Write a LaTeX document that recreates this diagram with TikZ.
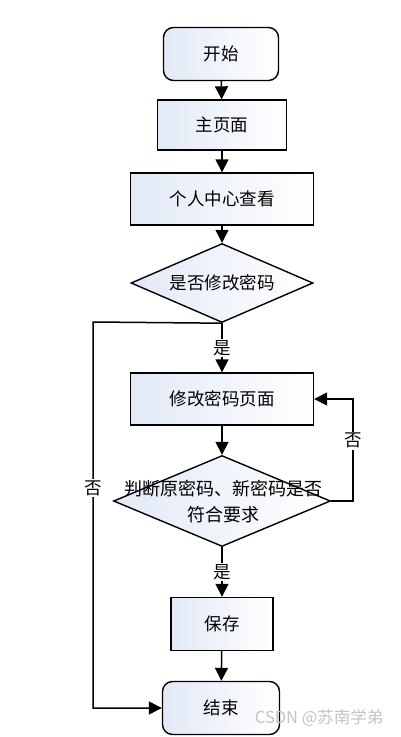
\documentclass[tikz,border=0pt]{standalone}
\usepackage{fontspec}
\setmainfont{Noto Sans CJK SC}
\usetikzlibrary{arrows.meta,shapes.geometric,positioning}
\definecolor{boxblue}{RGB}{226,233,246}
\definecolor{markgray}{RGB}{195,195,195}

\begin{document}
\begin{tikzpicture}[x=1pt,y=-1pt]
		\tikzstyle{every node}=[font=\fontsize{17.5}{21}\selectfont]
		\tikzstyle{box}=[draw, line width=1.4pt, left color=boxblue, right color=white, inner sep=0pt]
		\tikzstyle{terminal}=[box, rounded corners=10pt, minimum width=115pt, minimum height=53pt]
		\tikzstyle{process}=[box, minimum height=52pt]
		\tikzstyle{decision}=[box, diamond, aspect=2]
		\tikzstyle{flow}=[line width=1.5pt, -{Triangle[length=13pt,width=13pt]}]
		\tikzstyle{answer}=[fill=white, inner sep=1.5pt]
		\useasboundingbox (0,0) rectangle (400,737);
		\node [terminal] (start) at (221,54) {开始};
		\node [process, minimum width=129pt, minimum height=50pt] (home) at (222,125) {主页面};
		\node [process, minimum width=183pt] (center) at (222,199) {个人中心查看};
		\node [decision, minimum width=182pt, minimum height=79pt] (ask) at (222,283) {};
		\node at (ask) {是否修改密码};
		\node [process, minimum width=183pt] (edit) at (222,399) {修改密码页面};
		\node [decision, minimum width=217pt, minimum height=91pt] (check) at (222,501) {};
		\node [align=center, font=\fontsize{18}{26}\selectfont] at (223,502) {判断原密码、新密码是否\\符合要求};
		\node [process, minimum width=102pt, minimum height=53pt] (save) at (222,624) {保存};
		\node [terminal, minimum width=117pt] (finish) at (221,708) {结束};
		\coordinate (leftside) at (93,322);
		\coordinate (rightside) at (353,501);
		\draw [flow] (start) -- (home);
		\draw [flow] (home) -- (center);
		\draw [flow] (center) -- (ask);
		\draw [flow] (ask.south) -- node [answer] {是} (edit);
		\draw [flow] (edit) -- (check);
		\draw [flow] (check.south) -- node [answer] {是} (save);
		\draw [flow] (save) -- (finish);
		\draw [flow] (ask.south) -- (leftside) -- node [answer, pos=0.43] {否} (leftside |- finish) -- (finish.west);
		\draw [flow] (check.east) -- (rightside) -- node [answer, pos=0.59] {否} (rightside |- edit) -- (edit.east);
		\node [text=markgray, font=\fontsize{16.5}{18}\selectfont, anchor=east] (mark) at (387,718) {CSDN @苏南学弟};
		\end{tikzpicture}
\end{document}
